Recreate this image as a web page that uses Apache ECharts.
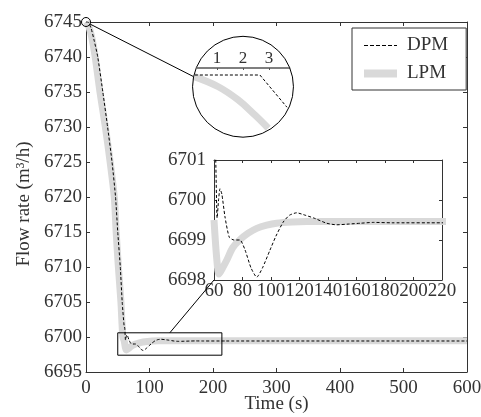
<!DOCTYPE html>
<html>
<head>
<meta charset="utf-8">
<script src="https://cdn.jsdelivr.net/npm/echarts@6/dist/echarts.min.js"></script>
<style>
  html, body { margin: 0; padding: 0; background: #fff; }
  #chart { width: 481px; height: 417px; }
</style>
</head>
<body>
<div id="chart"></div>
<script>
// Flow rate response of the distributed (DPM) and lumped (LPM) parameter models
const timeDPM = [0, 3, 8, 13, 18.5, 26.5, 34, 41, 46.5, 50, 54, 57, 60, 61, 62.2, 63.2, 64.2, 65.5,
  67.7, 70.7, 74, 78.2, 81.8, 86, 90, 94, 99.3, 103.5, 108.6, 113, 118, 124, 130, 139, 146, 155,
  163, 172, 185, 220, 300, 400, 500, 600];
const flowDPM = [6745, 6745, 6744.1, 6742.3, 6740, 6735, 6730, 6725, 6720, 6715, 6710, 6705, 6701.6, 6701.3, 6699.55, 6700.0, 6700.28, 6700.15,
  6699.58, 6699.07, 6699.0, 6699.0, 6698.75, 6698.3, 6698.07, 6698.3, 6698.75, 6699.1, 6699.45, 6699.62, 6699.68, 6699.62, 6699.55, 6699.42, 6699.38, 6699.4,
  6699.42, 6699.44, 6699.43, 6699.43, 6699.43, 6699.43, 6699.43, 6699.43];

const timeLPM = [0, 5, 10, 14.5, 22, 30.5, 38, 44.5, 47.5, 51, 55, 58, 60, 62, 63.5, 66, 69, 73, 78, 84,
  90, 97, 104, 115, 125, 150, 300, 600];
const flowLPM = [6745, 6744.2, 6742.4, 6740, 6735, 6730, 6725, 6720, 6715, 6710, 6705, 6700, 6699.5, 6698.5, 6698.15, 6698.3, 6698.5, 6698.8, 6699.0, 6699.17,
  6699.29, 6699.37, 6699.42, 6699.45, 6699.46, 6699.46, 6699.46, 6699.46];

// Magnified view of the first seconds (lens)
const lensTime = [1, 2, 3];
const lensTimeDPM = [0.15, 2.65, 3.69];
const lensFlowDPM = [6744.95, 6744.95, 6744.72];
const lensTimeLPM = [0.1, 1.05, 1.82, 2.46, 2.97];
const lensFlowLPM = [6744.94, 6744.866, 6744.771, 6744.664, 6744.57];
const lensEdge = [0.23, 3.81];   // top border of the plot seen through the lens
const lensTop = 6745;

// Zoomed window shown in the inset
const boxTime = [50, 214];
const boxFlow = [6697.4, 6700.6];
const insetFromLPM = 60;         // first samples handed to the inset plot
const insetFromDPM = 57;

const pairs = (xs, ys) => xs.map((x, i) => [x, ys[i]]);
const fromTime = (pts, t0) => pts.filter(p => p[0] >= t0);

const FONT = 'Liberation Serif';
const INK = '#333';
const GRAY = '#d9d9d9';
const labelStyle = { color: INK, fontFamily: FONT, fontSize: 19, formatter: v => String(v) };

function boxAxis(gridIndex, position, min, max, interval, showLabel, tickLen, margin) {
  return {
    type: 'value', gridIndex, position, min, max, interval,
    axisLine: { show: true, onZero: false, lineStyle: { color: INK, width: 1 } },
    axisTick: { show: true, inside: true, length: tickLen, lineStyle: { color: INK } },
    axisLabel: Object.assign({ show: showLabel, margin }, labelStyle),
    splitLine: { show: false }
  };
}

const chart = echarts.init(document.getElementById('chart'), null, { renderer: 'canvas' });

const lineOnly = { showSymbol: false, symbol: 'none', itemStyle: { opacity: 0 } };

const option = {
  backgroundColor: '#fff',
  animation: false,
  grid: [
    { left: 86, top: 22, width: 381, height: 350, outerBoundsMode: 'none', containLabel: false },
    { left: 214, top: 160, width: 228, height: 120, outerBoundsMode: 'none', containLabel: false },
    { left: 191, top: 68, width: 104, height: 70, outerBoundsMode: 'none', containLabel: false }
  ],
  xAxis: [
    Object.assign(boxAxis(0, 'bottom', 0, 600, 100, true, 4, 7), {
      name: 'Time (s)', nameLocation: 'middle', nameGap: 23, nameMoveOverlap: false,
      nameTextStyle: { color: INK, fontFamily: FONT, fontSize: 19 }
    }),
    boxAxis(0, 'top', 0, 600, 100, false, 4, 7),
    boxAxis(1, 'bottom', 60, 220, 20, true, 3, 2),
    boxAxis(1, 'top', 60, 220, 20, false, 3, 2),
    {
      type: 'value', gridIndex: 2, position: 'top', min: 0, max: 4, interval: 1,
      axisLine: { show: false },
      axisTick: { show: true, inside: true, length: 2, lineStyle: { color: '#555' } },
      axisLabel: Object.assign({}, labelStyle, { margin: 1, showMinLabel: false, showMaxLabel: false, fontSize: 17,
        formatter: v => (lensTime.indexOf(v) >= 0 ? String(v) : '') }),
      splitLine: { show: false }
    }
  ],
  yAxis: [
    Object.assign(boxAxis(0, 'left', 6695, 6745, 5, true, 4, 4), {
      name: 'Flow rate (m³/h)', nameLocation: 'middle', nameGap: 52, nameMoveOverlap: false,
      nameTextStyle: { color: INK, fontFamily: FONT, fontSize: 19, padding: [0, 14, 0, 0] }
    }),
    boxAxis(0, 'right', 6695, 6745, 5, false, 4, 4),
    boxAxis(1, 'left', 6698, 6701, 1, true, 3, 8),
    boxAxis(1, 'right', 6698, 6701, 1, false, 3, 8),
    { type: 'value', gridIndex: 2, min: 6744.5, max: 6745, show: false }
  ],
  legend: {
    left: 352, top: 28, orient: 'vertical',
    padding: [8, 18, 7, 8], itemGap: 9,
    itemWidth: 33, itemHeight: 18,
    borderColor: INK, borderWidth: 1, borderRadius: 0,
    backgroundColor: '#fff',
    textStyle: { color: INK, fontFamily: FONT, fontSize: 19, padding: [0, 0, 0, 5] },
    itemStyle: { opacity: 0 },
    lineStyle: { width: 'inherit', type: 'inherit' },
    data: [
      { name: 'DPM', itemStyle: { opacity: 0 }, lineStyle: { width: 1, type: [4, 2], color: '#000' } },
      { name: 'LPM', itemStyle: { opacity: 0 }, lineStyle: { width: 8, color: GRAY } }
    ]
  },
  series: [
    Object.assign({ name: 'LPM', type: 'line', xAxisIndex: 0, yAxisIndex: 0, data: pairs(timeLPM, flowLPM), smooth: 0.3,
      lineStyle: { color: GRAY, width: 7 }, z: 2 }, lineOnly),
    Object.assign({ name: 'DPM', type: 'line', xAxisIndex: 0, yAxisIndex: 0, data: pairs(timeDPM, flowDPM), smooth: 0.2,
      lineStyle: { color: '#000', width: 1, type: [3, 2] }, z: 3 }, lineOnly),
    Object.assign({ name: 'LPM', type: 'line', xAxisIndex: 2, yAxisIndex: 2, data: fromTime(pairs(timeLPM, flowLPM), insetFromLPM), smooth: 0.3,
      clip: true, lineStyle: { color: GRAY, width: 7 }, z: 2 }, lineOnly),
    Object.assign({ name: 'DPM', type: 'line', xAxisIndex: 2, yAxisIndex: 2, data: fromTime(pairs(timeDPM, flowDPM), insetFromDPM), smooth: 0.2,
      clip: true, lineStyle: { color: '#000', width: 1, type: [3, 2] }, z: 3 }, lineOnly),
    Object.assign({ name: 'edge', type: 'line', xAxisIndex: 4, yAxisIndex: 4, data: lensEdge.map(t => [t, lensTop]),
      clip: false, lineStyle: { color: '#555', width: 1.5 }, z: 3 }, lineOnly),
    Object.assign({ name: 'LPM', type: 'line', xAxisIndex: 4, yAxisIndex: 4, data: pairs(lensTimeLPM, lensFlowLPM), smooth: 0.4,
      clip: false, lineStyle: { color: GRAY, width: 7 }, z: 2 }, lineOnly),
    Object.assign({ name: 'DPM', type: 'line', xAxisIndex: 4, yAxisIndex: 4, data: pairs(lensTimeDPM, lensFlowDPM),
      clip: false, lineStyle: { color: '#000', width: 1, type: [3, 2] }, z: 3 }, lineOnly)
  ]
};

chart.setOption(option);

// Annotations: spot circle, lens, zoom box and the connector lines
const main = { xAxisIndex: 0, yAxisIndex: 0 };
const inset = { xAxisIndex: 2, yAxisIndex: 2 };
const lens = { xAxisIndex: 4, yAxisIndex: 4 };

const spot = chart.convertToPixel(main, [timeDPM[0], flowDPM[0]]);
const spotR = 4.5;
const lensCenter = chart.convertToPixel(lens, [2, 6744.866]);
const lensR = (chart.convertToPixel(lens, [3.94, lensTop])[0] - chart.convertToPixel(lens, [0.06, lensTop])[0]) / 2;
const lensEntry = chart.convertToPixel(lens, [0.08, 6744.94]);
const dx = lensEntry[0] - spot[0], dy = lensEntry[1] - spot[1];
const dl = Math.hypot(dx, dy);

const b0 = chart.convertToPixel(main, [boxTime[0], boxFlow[1]]);
const b1 = chart.convertToPixel(main, [boxTime[1], boxFlow[0]]);
const boxLink = chart.convertToPixel(main, [132, boxFlow[1]]);
const insetCorner = chart.convertToPixel(inset, [60, 6698]);

const stroke = { stroke: '#000', lineWidth: 1, fill: null };
chart.setOption({
  graphic: [
    { type: 'circle', z: 10, shape: { cx: spot[0], cy: spot[1], r: spotR }, style: stroke, silent: true },
    { type: 'circle', z: 10, shape: { cx: lensCenter[0], cy: lensCenter[1], r: lensR }, style: stroke, silent: true },
    { type: 'line', z: 10, shape: { x1: spot[0] + dx / dl * spotR, y1: spot[1] + dy / dl * spotR, x2: lensEntry[0], y2: lensEntry[1] },
      style: { stroke: '#000', lineWidth: 1 }, silent: true },
    { type: 'rect', z: 10, shape: { x: b0[0], y: b0[1], width: b1[0] - b0[0], height: b1[1] - b0[1] }, style: stroke, silent: true },
    { type: 'line', z: 10, shape: { x1: boxLink[0], y1: boxLink[1], x2: insetCorner[0], y2: insetCorner[1] },
      style: { stroke: '#000', lineWidth: 1 }, silent: true }
  ]
});
</script>
</body>
</html>
